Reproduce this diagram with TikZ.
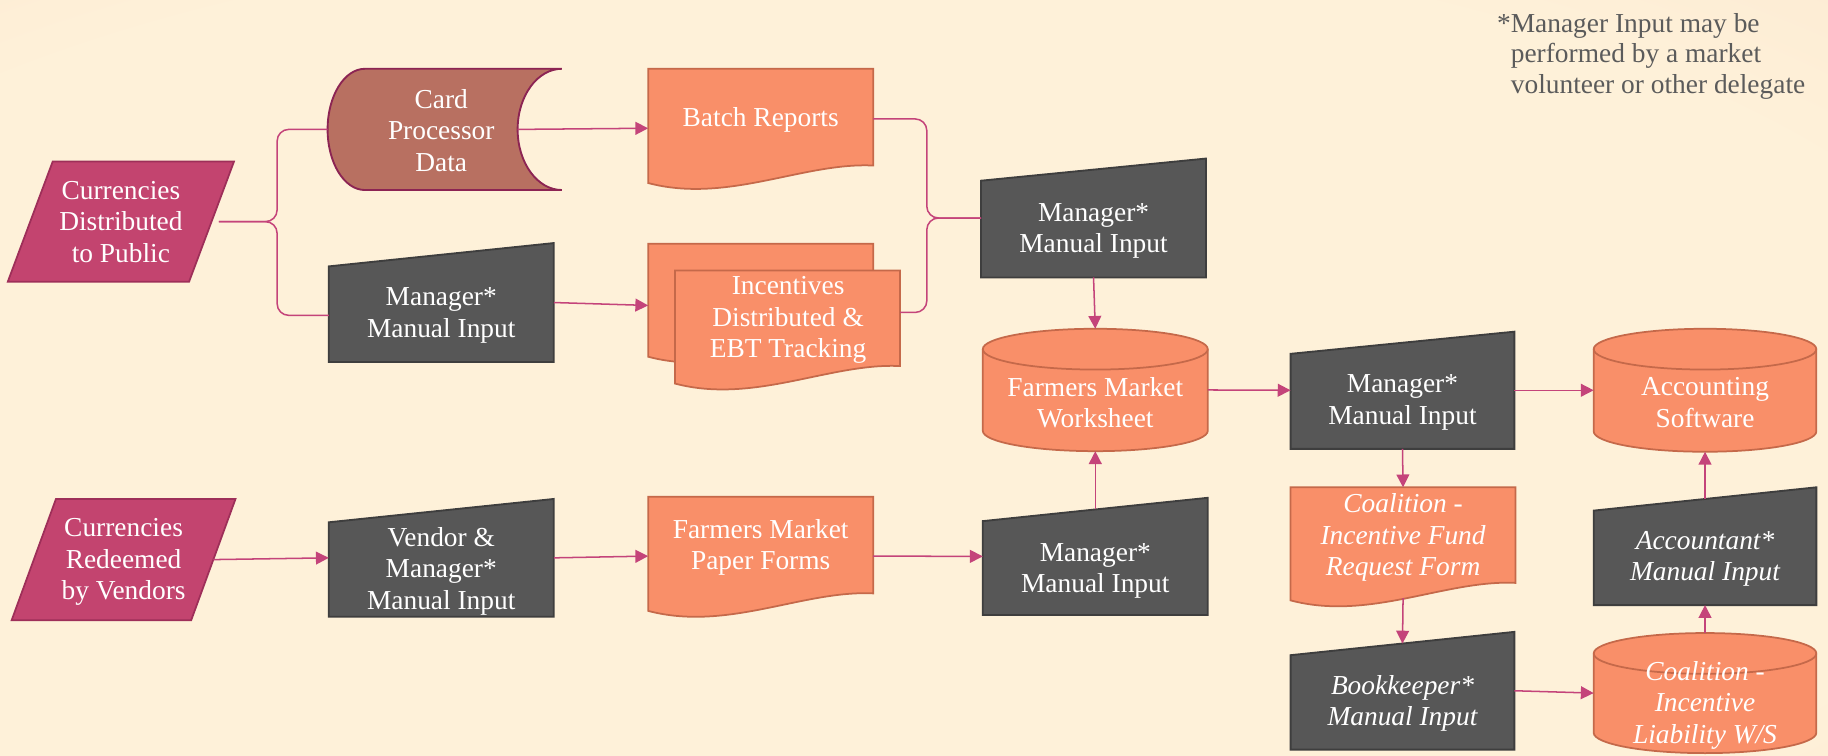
\documentclass[tikz,border=0pt]{standalone}
\usepackage{fontspec}
\setmainfont{Liberation Serif}
\usetikzlibrary{arrows.meta}

\definecolor{cream}{HTML}{FEF1D9}
\definecolor{peach}{HTML}{F9D5BE}
\definecolor{pinkfill}{HTML}{C3446F}
\definecolor{pinkline}{HTML}{9E2F59}
\definecolor{cardfill}{HTML}{B87061}
\definecolor{cardline}{HTML}{8C2453}
\definecolor{orangefill}{HTML}{F98F69}
\definecolor{orangeline}{HTML}{C5694A}
\definecolor{grayfill}{HTML}{575757}
\definecolor{grayline}{HTML}{3E3E3E}
\definecolor{connector}{HTML}{C4447A}
\definecolor{notegray}{HTML}{5B5B5B}

\pgfdeclarelayer{bg}
\pgfsetlayers{bg,main}

\pgfdeclareradialshading{pagebg}{\pgfpoint{-4bp}{-6bp}}%
  {color(0bp)=(cream); color(32bp)=(cream); color(72bp)=(peach)}

% outlines drawn behind the named boxes
\newcommand\drawpara[2]{%
  \path[pinkbox] ([xshift=#2]#1.north west) -- (#1.north east)
    -- ([xshift=-#2]#1.south east) -- (#1.south west) -- cycle;}
\newcommand\drawmanual[2]{%
  \path[graybox] (#1.south west) -- ([yshift=-#2]#1.north west)
    -- (#1.north east) -- (#1.south east) -- cycle;}
\newcommand\drawdoc[1]{%
  \path[orangebox] (#1.north west) -- (#1.north east) -- ([yshift=19]#1.south east)
    .. controls ([xshift=-60,yshift=22]#1.south east) and ([xshift=68,yshift=-14]#1.south west)
    .. ([yshift=4]#1.south west) -- cycle;}
\newcommand\drawcyl[3]{%
  \path[orangebox] ([yshift=-#3]#1.north west) -- ([yshift=#3]#1.south west)
    arc[start angle=180,end angle=360,x radius=#2,y radius=#3]
    -- ([yshift=-#3]#1.north east)
    arc[start angle=0,end angle=180,x radius=#2,y radius=#3] -- cycle;
  \draw[orangebox,fill=none] ([yshift=-#3]#1.north west)
    arc[start angle=180,end angle=360,x radius=#2,y radius=#3];}
\newcommand\drawstored[4]{%
  \path[cardbox] ([xshift=#2]#1.north west) -- (#1.north east)
    arc[start angle=90,end angle=270,x radius=#3,y radius=#4]
    -- ([xshift=#2]#1.south west)
    arc[start angle=270,end angle=90,x radius=#2,y radius=#4] -- cycle;}

\begin{document}
\begin{tikzpicture}[x=1pt,y=1pt,
  shapebox/.style={rectangle,draw=none,inner sep=0pt,outer sep=0pt},
  txt/.style={text=white,align=center,inner sep=0pt,
    font=\fontsize{23.5pt}{27pt}\selectfont},
  itxt/.style={txt,font=\fontsize{23.5pt}{27pt}\selectfont\itshape},
  graybox/.style={fill=grayfill,draw=grayline,line width=1.6pt},
  orangebox/.style={fill=orangefill,draw=orangeline,line width=1.5pt},
  pinkbox/.style={fill=pinkfill,draw=pinkline,line width=1.5pt},
  cardbox/.style={fill=cardfill,draw=cardline,line width=1.6pt},
  conn/.style={draw=connector,line width=1.3pt},
  arr/.style={conn,-{Triangle[length=11pt,width=11pt]}},
]
\useasboundingbox (0,0) rectangle (1568,-648);
\begin{pgfonlayer}{bg}
  \shade[shading=pagebg] (0,0) rectangle (1568,-648);
\end{pgfonlayer}

% ---- nodes (boxes sized to their outlines) ----
\node[shapebox,minimum width=194pt,minimum height=103pt,
  label={[txt]center:{Currencies\\Distributed\\to Public}}] (currDist) at (103.7,-190.1) {};
\node[shapebox,minimum width=192pt,minimum height=104pt,
  label={[txt,yshift=-2pt]center:{Currencies\\Redeemed\\by Vendors}}] (currRed) at (106,-480) {};
\node[shapebox,minimum width=201pt,minimum height=104pt,
  label={[txt,xshift=-3pt,yshift=-1pt]center:{Card\\Processor\\Data}}] (cardData) at (381.5,-111) {};
\node[shapebox,minimum width=193pt,minimum height=102pt,
  label={[txt,yshift=7pt]center:{Batch Reports}}] (batch) at (652.5,-110) {};
\node[shapebox,minimum width=193pt,minimum height=102pt,
  label={[txt,yshift=-11pt]center:{Manager*\\Manual Input}}] (mgrTop) at (938,-187) {};
\node[shapebox,minimum width=193pt,minimum height=102pt,
  label={[txt,yshift=-11pt]center:{Manager*\\Manual Input}}] (mgrLeft) at (378.5,-259.5) {};
\node[shapebox,minimum width=216pt,minimum height=124pt,
  label={[txt,xshift=12pt,yshift=-3.5pt]center:{Incentives\\Distributed \&\\EBT Tracking}}] (incent) at (664,-271) {};
\node[shapebox,minimum width=193pt,minimum height=105pt,
  label={[txt,yshift=-11pt]center:{Farmers Market\\Worksheet}}] (worksheet) at (939.5,-334.5) {};
\node[shapebox,minimum width=193pt,minimum height=101pt,
  label={[txt,yshift=-11.5pt]center:{Vendor \&\\Manager*\\Manual Input}}] (vendor) at (378.5,-478.5) {};
\node[shapebox,minimum width=193pt,minimum height=102pt,
  label={[txt,yshift=7.5pt]center:{Farmers Market\\Paper Forms}}] (paper) at (652.5,-477) {};
\node[shapebox,minimum width=193pt,minimum height=100.5pt,
  label={[txt,yshift=-12.5pt]center:{Manager*\\Manual Input}}] (mgrLow) at (939.5,-477.25) {};
\node[shapebox,minimum width=192pt,minimum height=100.5pt,
  label={[txt,yshift=-10.5pt]center:{Manager*\\Manual Input}}] (mgrRight) at (1203,-334.75) {};
\node[shapebox,minimum width=191pt,minimum height=105.5pt,
  label={[txt,yshift=-10.5pt]center:{Accounting\\Software}}] (accounting) at (1462.5,-334.75) {};
\node[shapebox,minimum width=193pt,minimum height=101pt,
  label={[itxt,yshift=7.5pt]center:{Coalition -\\Incentive Fund\\Request Form}}] (reqForm) at (1203.5,-468.5) {};
\node[shapebox,minimum width=191pt,minimum height=101pt,
  label={[itxt,yshift=-11pt]center:{Accountant*\\Manual Input}}] (accountant) at (1462.5,-468.5) {};
\node[shapebox,minimum width=192pt,minimum height=101pt,
  label={[itxt,yshift=-11pt]center:{Bookkeeper*\\Manual Input}}] (bookkeeper) at (1203,-592.5) {};
\node[shapebox,minimum width=191pt,minimum height=103pt,
  label={[itxt,yshift=-10.5pt]center:{Coalition -\\Incentive\\Liability W/S}}] (liability) at (1462.5,-594.5) {};

% footnote
\node[anchor=north west,text=notegray,align=left,inner sep=0pt,
  font=\fontsize{23.5pt}{26.5pt}\selectfont] (note) at (1284,-11)
  {*Manager Input may be\\\hphantom{*}performed by a market\\\hphantom{*}volunteer or other delegate};

% ---- outlines ----
\begin{pgfonlayer}{bg}
  \drawpara{currDist}{38.5}
  \drawpara{currRed}{38}
  \drawstored{cardData}{32}{38}{52}
  \drawdoc{batch}
  \drawmanual{mgrTop}{19}
  \drawmanual{mgrLeft}{20}
  % stacked documents: back sheet, then front sheet
  \path[orangebox] (incent.north west) -- ([xshift=-23]incent.north east)
    -- ([xshift=-23,yshift=42]incent.south east)
    .. controls ([xshift=-83,yshift=45]incent.south east) and ([xshift=68,yshift=9]incent.south west)
    .. ([yshift=27]incent.south west) -- cycle;
  \path[orangebox] ([xshift=23,yshift=-23]incent.north west) -- ([yshift=-23]incent.north east)
    -- ([yshift=19]incent.south east)
    .. controls ([xshift=-60,yshift=22]incent.south east) and ([xshift=91,yshift=-14]incent.south west)
    .. ([xshift=23,yshift=4]incent.south west) -- cycle;
  \drawcyl{worksheet}{96.5}{17.5}
  \drawmanual{vendor}{20}
  \drawdoc{paper}
  \drawmanual{mgrLow}{20}
  \drawmanual{mgrRight}{19}
  \drawcyl{accounting}{95.5}{17.5}
  \drawdoc{reqForm}
  \drawmanual{accountant}{20}
  \drawmanual{bookkeeper}{20}
  \drawcyl{liability}{95.5}{17.5}
\end{pgfonlayer}

% ---- connectors ----
\draw[conn,rounded corners=10pt] ([xshift=-13pt]currDist.east) -- ++(50,0) |- (cardData.west);
\draw[conn,rounded corners=10pt] ([xshift=-13pt]currDist.east) -- ++(50,0) |- ([yshift=-11pt]mgrLeft.west);
\draw[conn,rounded corners=10pt] ([yshift=8pt]batch.east) -- ++(46,0) |- (mgrTop.west);
\draw[conn,rounded corners=10pt] ([yshift=3pt]incent.east) -- ++(23,0) |- (mgrTop.west);

\draw[arr] ([xshift=-38pt]cardData.east) -- (batch.west);
\draw[arr] (mgrLeft.east) -- ([yshift=9pt]incent.west);
\draw[arr] (mgrTop.south) -- (worksheet.north);
\draw[arr] ([xshift=-19pt]currRed.east) -- (vendor.west);
\draw[arr] (vendor.east) -- (paper.west);
\draw[arr] (paper.east) -- (mgrLow.west);
\draw[arr] ([yshift=-10pt]mgrLow.north) -- (worksheet.south);
\draw[arr] (worksheet.east) -- (mgrRight.west);
\draw[arr] (mgrRight.east) -- (accounting.west);
\draw[arr] (mgrRight.south) -- (reqForm.north);
\draw[arr] ([yshift=6pt]reqForm.south) -- ([yshift=-10pt]bookkeeper.north);
\draw[arr] (bookkeeper.east) -- (liability.west);
\draw[arr] (liability.north) -- (accountant.south);
\draw[arr] ([yshift=-10pt]accountant.north) -- (accounting.south);
\end{tikzpicture}
\end{document}
